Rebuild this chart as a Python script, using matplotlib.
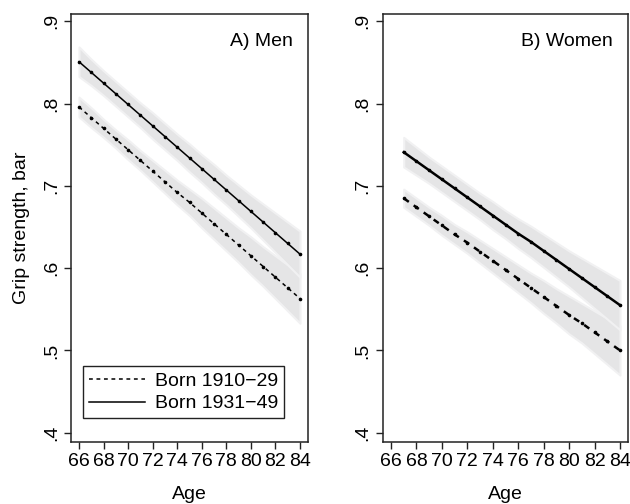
import matplotlib

matplotlib.use("Agg")
import matplotlib.pyplot as plt

plt.rcParams["font.family"] = ["Liberation Sans", "DejaVu Sans"]

# Men: ages 66-84, women: ages 67-84
men_age = [66, 67, 68, 69, 70, 71, 72, 73, 74, 75, 76, 77, 78, 79, 80, 81, 82, 83, 84]
men_old = [0.796, 0.783, 0.770, 0.757, 0.744, 0.731, 0.718, 0.705, 0.692, 0.680,
           0.667, 0.654, 0.641, 0.628, 0.615, 0.602, 0.589, 0.576, 0.563]
men_old_hw = [0.012, 0.012, 0.011, 0.011, 0.012, 0.012, 0.013, 0.014, 0.015, 0.016,
              0.018, 0.019, 0.020, 0.021, 0.023, 0.024, 0.026, 0.028, 0.030]
men_new = [0.851, 0.838, 0.825, 0.812, 0.799, 0.786, 0.773, 0.760, 0.747, 0.734,
           0.721, 0.708, 0.695, 0.682, 0.669, 0.656, 0.643, 0.630, 0.617]
men_new_hw = [0.018, 0.016, 0.015, 0.015, 0.015, 0.015, 0.016, 0.016, 0.016, 0.017,
              0.017, 0.018, 0.018, 0.019, 0.020, 0.022, 0.024, 0.026, 0.028]

women_age = [67, 68, 69, 70, 71, 72, 73, 74, 75, 76, 77, 78, 79, 80, 81, 82, 83, 84]
women_old = [0.685, 0.674, 0.663, 0.652, 0.641, 0.631, 0.620, 0.609, 0.598,
             0.587, 0.576, 0.565, 0.554, 0.543, 0.533, 0.522, 0.511, 0.500]
women_old_hw = [0.011, 0.011, 0.011, 0.012, 0.012, 0.013, 0.014, 0.015, 0.016,
                0.017, 0.018, 0.020, 0.021, 0.023, 0.024, 0.026, 0.028, 0.030]
women_new = [0.741, 0.730, 0.719, 0.708, 0.697, 0.686, 0.675, 0.664, 0.653,
             0.642, 0.632, 0.621, 0.610, 0.599, 0.588, 0.577, 0.566, 0.555]
women_new_hw = [0.018, 0.017, 0.016, 0.016, 0.016, 0.016, 0.016, 0.017, 0.017,
                0.018, 0.019, 0.020, 0.021, 0.022, 0.024, 0.026, 0.028, 0.030]

x_ticks = [66, 68, 70, 72, 74, 76, 78, 80, 82, 84]
y_ticks = [0.4, 0.5, 0.6, 0.7, 0.8, 0.9]
y_tick_labels = [".4", ".5", ".6", ".7", ".8", ".9"]

BAND = "#e5e5e6"
BAND_EDGE = "#f1f1f2"
FS = 14


def draw_panel(ax, age, old, old_hw, new, new_hw, title, lw):
    for vals, hw in ((old, old_hw), (new, new_hw)):
        ax.fill_between(age, [v - h for v, h in zip(vals, hw)], [v + h for v, h in zip(vals, hw)],
                        color=BAND, edgecolor=BAND_EDGE, linewidth=1.5, zorder=1)
    ax.plot(age, old, color="black", linestyle=(0, (2.5, 2.4)), linewidth=lw,
            marker="o", markersize=1.6, label="Born 1910\u221229", zorder=3)
    ax.plot(age, new, color="black", linestyle="-", linewidth=lw,
            marker="o", markersize=1.6, label="Born 1931\u221249", zorder=3)
    ax.set_xlim(65.35, 84.65)
    ax.set_ylim(0.389, 0.909)
    ax.set_xticks(x_ticks)
    ax.set_xticklabels([str(t) for t in x_ticks], fontsize=FS)
    ax.set_yticks(y_ticks)
    ax.set_yticklabels(y_tick_labels, fontsize=FS, rotation=90, va="center")
    ax.tick_params(direction="out", length=5, width=1, color="#222222", pad=3)
    for s in ax.spines.values():
        s.set_linewidth(1.1)
        s.set_color("#222222")
    ax.set_xlabel("Age", fontsize=FS, labelpad=12)
    ax.text(0.937, 0.955, title, transform=ax.transAxes, ha="right", va="top", fontsize=FS)


fig = plt.figure(figsize=(6.3, 5.04), dpi=100)
ax1 = fig.add_axes([0.1127, 0.1236, 0.3762, 0.8486])
ax2 = fig.add_axes([0.6075, 0.1236, 0.3898, 0.8486])

draw_panel(ax1, men_age, men_old, men_old_hw, men_new, men_new_hw, "A) Men", 1.1)
draw_panel(ax2, women_age, women_old, women_old_hw, women_new, women_new_hw, "B) Women", 1.8)

ax1.set_ylabel("Grip strength, bar", fontsize=FS, labelpad=9)
leg = ax1.legend(loc="lower left", bbox_to_anchor=(0.05, 0.055), borderaxespad=0, fontsize=FS,
                 frameon=True, fancybox=False, edgecolor="#222222", framealpha=1,
                 handlelength=2.9, handletextpad=0.5, borderpad=0.3, labelspacing=0.25)
leg.get_frame().set_linewidth(1.0)
for h in leg.legend_handles:
    h.set_marker("")
    h.set_linewidth(1.1)

fig.savefig("out.png", dpi=100)
